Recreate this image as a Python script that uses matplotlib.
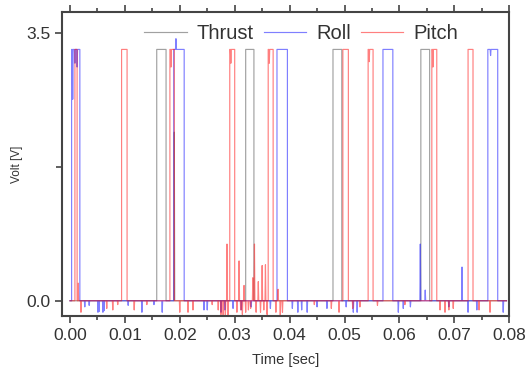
import matplotlib
matplotlib.use("Agg")
import matplotlib.pyplot as plt
from matplotlib.ticker import MultipleLocator, FixedLocator

plt.rcParams['font.family'] = ['Liberation Sans', 'DejaVu Sans']

HIGH = 3.28

# Pulse (start, end) times in seconds
thrust_pulses = [(0.0158, 0.0175), (0.0320, 0.0335), (0.0479, 0.0495), (0.0639, 0.0655)]
roll_pulses = [(0.0003, 0.0018), (0.0189, 0.0208), (0.0377, 0.0396), (0.0570, 0.0588), (0.0761, 0.0779)]
pitch_pulses = [(0.0009, 0.0013), (0.0094, 0.0104), (0.0182, 0.0190), (0.0291, 0.0300),
                (0.0361, 0.0370), (0.0497, 0.0507), (0.0543, 0.0552), (0.0659, 0.0668), (0.0725, 0.0734)]

# Spikes / glitches (time, voltage)
thrust_spikes = [(0.0190, 2.20)]
roll_spikes = [(0.0005, 2.63), (0.0009, 3.10), (0.0013, 3.05), (0.0027, -0.08), (0.0035, -0.06),
               (0.0051, -0.15), (0.0053, -0.14), (0.0060, -0.15), (0.0062, -0.13), (0.0106, -0.06),
               (0.0131, -0.15), (0.0153, -0.05), (0.0168, -0.15), (0.0193, 3.42), (0.0244, -0.12),
               (0.0250, -0.12), (0.0275, -0.15), (0.0282, -0.12), (0.0297, -0.10), (0.0312, -0.12),
               (0.0330, -0.08), (0.0365, -0.10), (0.0405, -0.10), (0.0415, -0.15), (0.0422, -0.12),
               (0.0432, -0.15), (0.0450, -0.08), (0.0468, -0.10), (0.0503, -0.08), (0.0516, -0.15),
               (0.0523, -0.15), (0.0598, -0.15), (0.0607, -0.10), (0.0620, -0.08), (0.0638, 0.74),
               (0.0647, 0.14), (0.0690, -0.08), (0.0714, 0.44), (0.0725, -0.15), (0.0741, -0.12),
               (0.0766, 3.20), (0.0789, -0.15)]
pitch_spikes = [(0.0015, 0.23), (0.0020, -0.15), (0.0067, -0.10), (0.0078, -0.12), (0.0087, -0.05),
                (0.0117, -0.12), (0.0140, -0.05), (0.0184, 3.05), (0.0200, -0.15), (0.0215, -0.15),
                (0.0224, -0.12), (0.0259, -0.05), (0.0270, -0.12), (0.0275, -0.18), (0.0279, -0.20),
                (0.0283, -0.20), (0.0286, 0.74), (0.0288, -0.20), (0.0293, 3.10), (0.0304, -0.15),
                (0.0308, 0.52), (0.0311, -0.12), (0.0314, -0.18), (0.0317, 0.20), (0.0320, -0.15),
                (0.0325, -0.12), (0.0329, -0.10), (0.0333, 0.30), (0.0336, 0.74), (0.0339, -0.15),
                (0.0343, 0.25), (0.0347, -0.15), (0.0350, 0.46), (0.0353, -0.12), (0.0356, 0.47),
                (0.0359, -0.18), (0.0363, 3.10), (0.0375, -0.15), (0.0379, 0.15), (0.0383, -0.20),
                (0.0387, -0.15), (0.0445, -0.05), (0.0476, -0.10), (0.0490, -0.15), (0.0515, -0.10),
                (0.0528, -0.08), (0.0545, 3.12), (0.0560, -0.06), (0.0610, -0.05), (0.0661, 3.05),
                (0.0674, -0.12), (0.0683, -0.15), (0.0690, -0.12), (0.0698, -0.10), (0.0745, -0.12),
                (0.0765, -0.15)]

T_START, T_END = 0.0, 0.0795
EPS = 0.00008


def build(pulses, spikes):
    def base(t):
        for s, e in pulses:
            if s <= t <= e:
                return HIGH
        return 0.0
    pts = [(T_START, 0.0), (T_END, 0.0)]
    for s, e in pulses:
        pts += [(s, 0.0), (s + 1e-9, HIGH), (e, HIGH), (e + 1e-9, 0.0)]
    for t, v in spikes:
        b = base(t)
        pts += [(t - EPS, b), (t, v), (t + EPS, b)]
    pts.sort(key=lambda p: p[0])
    return [p[0] for p in pts], [p[1] for p in pts]


fig = plt.figure(figsize=(5.25, 3.71), dpi=100)
ax = fig.add_axes([0.118, 0.148, 0.852, 0.82])

tx, ty = build(thrust_pulses, thrust_spikes)
rx, ry = build(roll_pulses, roll_spikes)
px, py = build(pitch_pulses, pitch_spikes)

ax.plot(tx, ty, color='#555555', alpha=0.55, lw=0.85, label='Thrust')
ax.plot(rx, ry, color='#0000ff', alpha=0.5, lw=0.85, label='Roll')
ax.plot(px, py, color='#ff0000', alpha=0.5, lw=0.85, label='Pitch')

ax.set_xlim(-0.00146, 0.08)
ax.set_ylim(-0.2, 3.77)

ax.xaxis.set_major_locator(MultipleLocator(0.01))
ax.xaxis.set_minor_locator(MultipleLocator(0.005))
ax.set_xticklabels([f"{v:.2f}" for v in ax.get_xticks()])
ax.yaxis.set_major_locator(FixedLocator([0.0, 3.5]))
ax.yaxis.set_minor_locator(FixedLocator([1.75]))
ax.set_yticklabels(["0.0", "3.5"])

ax.tick_params(axis='x', which='both', direction='out', top=True, labeltop=False,
               colors='#444444', labelcolor='#333333', labelsize=12.5, width=1.2)
ax.tick_params(axis='x', which='major', length=5)
ax.tick_params(axis='x', which='minor', length=3)
ax.tick_params(axis='y', which='both', direction='out', right=False,
               colors='#444444', labelcolor='#333333', labelsize=12.5, width=1.2)
ax.tick_params(axis='y', which='major', length=5)
ax.tick_params(axis='y', which='minor', length=4)

for sp in ax.spines.values():
    sp.set_color('#444444')
    sp.set_linewidth(1.5)

ax.set_xlabel('Time [sec]', fontsize=10.5, color='#333333', labelpad=7)
ax.set_ylabel('Volt [V]', fontsize=8.5, color='#333333', labelpad=2)

leg = ax.legend(loc='upper center', bbox_to_anchor=(0.535, 1.02), ncol=3, frameon=False,
                fontsize=14.5, handlelength=2.1, handletextpad=0.5, columnspacing=0.5)
for t in leg.get_texts():
    t.set_color('#333333')

fig.savefig('out.png', dpi=100)
